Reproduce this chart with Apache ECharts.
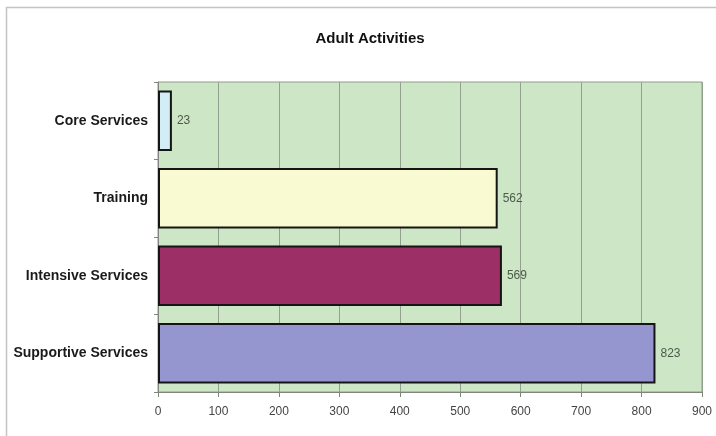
<!DOCTYPE html>
<html>
<head>
<meta charset="utf-8">
<script src="https://cdn.jsdelivr.net/npm/echarts@6/dist/echarts.min.js"></script>
<style>
  html, body { margin: 0; padding: 0; background: #ffffff; }
  #chart { width: 716px; height: 436px; }
</style>
</head>
<body>
<div id="chart"></div>
<script>
// Adult activity counts by service type
const categories = ['Core Services', 'Training', 'Intensive Services', 'Supportive Services'];
const counts = [23, 562, 569, 823];
const barColors = ['#d2edf3', '#f9f9d2', '#9b2f66', '#9595cf'];
const xTicks = [0, 100, 200, 300, 400, 500, 600, 700, 800, 900];

const narrow = "'Liberation Sans Narrow', 'Arial Narrow', 'Liberation Sans', sans-serif";

const chart = echarts.init(document.getElementById('chart'), null, { renderer: 'canvas' });

chart.setOption({
  backgroundColor: '#ffffff',
  animation: false,
  title: {
    text: 'Adult Activities',
    left: 365,
    top: 26,
    textAlign: 'center',
    textStyle: { fontFamily: narrow, fontWeight: 'bold', fontSize: 15, color: '#111111' }
  },
  graphic: [
    {
      type: 'rect',
      shape: { x: 6.5, y: 7.5, width: 720, height: 440 },
      style: { fill: 'none', stroke: '#c4c4c4', lineWidth: 1.5 },
      z: -1
    }
  ],
  grid: {
    left: 158, right: 14, top: 82, bottom: 44,
    show: true,
    backgroundColor: '#cde7c6',
    borderColor: '#8f9a8c',
    borderWidth: 1
  },
  xAxis: {
    type: 'value',
    min: xTicks[0],
    max: xTicks[xTicks.length - 1],
    interval: 100,
    axisLine: { show: true, lineStyle: { color: '#7f877d', width: 1 } },
    axisTick: { show: true, length: 5, lineStyle: { color: '#7f877d' } },
    axisLabel: {
      margin: 14,
      fontFamily: narrow, fontSize: 12, color: '#444444'
    },
    splitLine: { show: true, lineStyle: { color: '#93a08f', width: 1 } }
  },
  yAxis: {
    type: 'category',
    inverse: true,
    data: categories,
    axisLine: { show: true, lineStyle: { color: '#7f877d', width: 1 } },
    axisTick: { show: true, length: 4, lineStyle: { color: '#7f877d' } },
    axisLabel: {
      margin: 10,
      fontFamily: narrow, fontSize: 14, fontWeight: 'bold', color: '#1a1a1a',
      padding: [4, 0, 0, 0]
    }
  },
  series: [
    {
      type: 'bar',
      data: counts.map((v, i) => ({ value: v, itemStyle: { color: barColors[i] } })),
      barCategoryGap: '22%',
      itemStyle: { borderColor: '#151515', borderWidth: 2 },
      label: {
        show: true,
        position: 'right',
        distance: 5,
        fontFamily: narrow, fontSize: 12, color: '#4d5a4a',
        padding: [3, 0, 0, 0]
      }
    }
  ]
});
</script>
</body>
</html>
